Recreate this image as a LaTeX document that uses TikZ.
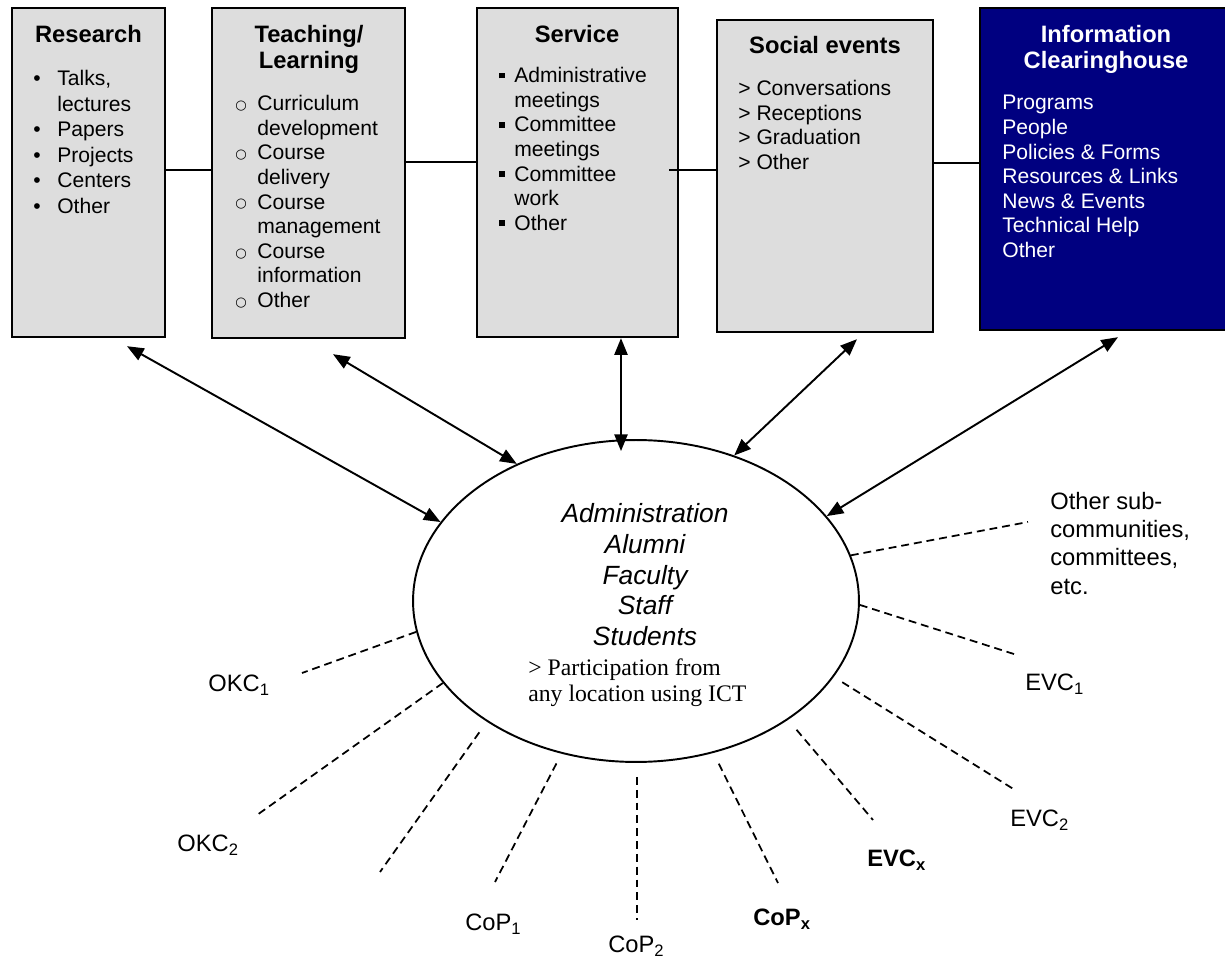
\documentclass[tikz,border=0pt]{standalone}
\usepackage{fontspec}
\setmainfont{Liberation Sans}
\newfontfamily\timesf{Liberation Serif}
\newfontfamily\symf{DejaVu Sans}
\usetikzlibrary{arrows.meta,shapes.geometric}
\definecolor{boxgray}{HTML}{DDDDDD}
\definecolor{navyblue}{HTML}{000080}
% list markers with hanging indent
\newcommand{\dotb}{\makebox[0.48cm][l]{•}}
\newcommand{\dotn}{\hspace*{0.48cm}}
\newcommand{\ringb}{\makebox[0.44cm][l]{\raisebox{0.6pt}{\fontsize{7.5}{8}\symf ○}}}
\newcommand{\ringn}{\hspace*{0.44cm}}
\newcommand{\sqb}{\makebox[0.3cm][l]{\rule[2.4pt]{3.3pt}{3.3pt}}}
\newcommand{\sqn}{\hspace*{0.3cm}}

\begin{document}
\begin{tikzpicture}[x=0.02cm, y=-0.02cm,
  every node/.style={inner sep=0pt, font=\fontsize{12}{14}\selectfont},
  box/.style={draw, line width=1.4pt, fill=boxgray, rectangle},
  head/.style={font=\fontsize{13.5}{15.3}\selectfont\bfseries, align=center, anchor=north},
  lst/.style={align=left, anchor=north west},
  lbl/.style={font=\fontsize{13.5}{16.2}\selectfont, anchor=base west},
  dbl/.style={{Triangle[length=9.5pt,width=7.5pt]}-{Triangle[length=9.5pt,width=7.5pt]}, line width=1.1pt},
  dsh/.style={line width=1pt, dash pattern=on 4.5pt off 2.8pt},
  link/.style={line width=1.1pt}]
  \useasboundingbox (0,0) rectangle (1225,959);

  % Top boxes
  \node[box, minimum width=3.06cm, minimum height=6.58cm] (res) at (88.5,172.5) {};
  \node[box, minimum width=3.86cm, minimum height=6.6cm] (teach) at (308.5,173) {};
  \node[box, minimum width=4.02cm, minimum height=6.58cm] (serv) at (577.5,172.5) {};
  \node[box, minimum width=4.32cm, minimum height=6.24cm] (soc) at (825,176) {};
  \node[box, fill=navyblue, minimum width=5cm, minimum height=6.44cm] (info) at (1105,169) {};

  % Links between the boxes
  \draw[link] (res.east |- 0,170) -- (teach.west |- 0,170);
  \draw[link] (teach.east |- 0,162) -- (serv.west |- 0,162);
  \draw[link] ([xshift=-0.2cm]serv.east |- 0,170) -- (soc.west |- 0,170);
  \draw[link] (soc.east |- 0,163) -- (info.west |- 0,163);

  % Research
  \node[head] (resH) at (88.5,24.5) {Research};
  \node[lst, font=\fontsize{12}{14.5}\selectfont] (resL) at (33,70)
    {\dotb Talks,\\\dotn lectures\\\dotb Papers\\\dotb Projects\\\dotb Centers\\\dotb Other};

  % Teaching / Learning
  \node[head] (teachH) at (309,24.5) {Teaching/\\Learning};
  \node[lst] (teachL) at (235,95)
    {\ringb Curriculum\\\ringn development\\\ringb Course\\\ringn delivery\\\ringb Course\\\ringn management\\\ringb Course\\\ringn information\\\ringb Other};

  % Service
  \node[head] (servH) at (577,24.5) {Service};
  \node[lst] (servL) at (499,67)
    {\sqb Administrative\\\sqn meetings\\\sqb Committee\\\sqn meetings\\\sqb Committee\\\sqn work\\\sqb Other};

  % Social events
  \node[head] (socH) at (825,35.5) {Social events};
  \node[lst] (socL) at (738,80)
    {> Conversations\\> Receptions\\> Graduation\\> Other};

  % Information Clearinghouse
  \node[head, text=white] (infoH) at (1106,24.5) {Information\\Clearinghouse};
  \node[lst, text=white] (infoL) at (1002,95)
    {Programs\\People\\Policies \& Forms\\Resources \& Links\\News \& Events\\Technical Help\\Other};

  % Community
  \node[draw, ellipse, line width=1.1pt, minimum width=8.92cm, minimum height=6.44cm] (ell) at (636,601) {};
  \node[font=\fontsize{15}{17.4}\selectfont\itshape, align=center, anchor=north] (members) at (645,503.5)
    {Administration\\Alumni\\Faculty\\Staff\\Students};
  \node[font=\fontsize{13.5}{15.3}\timesf, align=left, anchor=north west] (ict) at (528,658)
    {> Participation from\\any location using ICT};

  % Arrows to the boxes
  \draw[dbl] ([xshift=0.77cm,yshift=-0.16cm]res.south) -- (ell.158);
  \draw[dbl] ([xshift=0.49cm,yshift=-0.3cm]teach.south) -- (ell.131);
  \draw[dbl] ([xshift=0.87cm]serv.south) -- ([xshift=-0.3cm,yshift=-0.24cm]ell.north);
  \draw[dbl] ([xshift=0.64cm,yshift=-0.12cm]soc.south) -- (ell.56);
  \draw[dbl] ([xshift=0.26cm,yshift=-0.12cm]info.south) -- (ell.24);

  % Sub-communities
  \coordinate (otherE) at (1028,522);
  \coordinate (evc1E) at (1017,655);
  \coordinate (evc2E) at (1015,790);
  \coordinate (evcxE) at (873,820);
  \coordinate (copxE) at (778,883);
  \coordinate (cop2E) at (637,920);
  \coordinate (cop1E) at (495,882);
  \coordinate (blankE) at (380,872);
  \coordinate (okc2E) at (257,815);
  \coordinate (okc1E) at (302,673);
  \draw[dsh] (ell.12.5) -- (otherE);
  \draw[dsh] (ell.-1.8) -- (evc1E);
  \draw[dsh, shorten <=0.2cm] (ell.-21) -- (evc2E);
  \draw[dsh, shorten <=0.26cm] (ell.-38.3) -- (evcxE);
  \draw[dsh, shorten <=0.24cm] (ell.-63.4) -- (copxE);
  \draw[dsh, shorten <=0.28cm] (ell.south -| cop2E) -- (cop2E);
  \draw[dsh, shorten <=0.22cm] (ell.-116) -- (cop1E);
  \draw[dsh, shorten <=0.26cm] (ell.-141.4) -- (blankE);
  \draw[dsh] (ell.-157.2) -- (okc2E);
  \draw[dsh] (ell.-172) -- (okc1E);

  \node[lbl, align=left, anchor=north west] (other) at (1050,491.5)
    {Other sub-\\communities,\\committees,\\etc.};
  \node[lbl] (evc1) at (1025,690.5) {EVC\textsubscript{1}};
  \node[lbl] (evc2) at (1010,826.5) {EVC\textsubscript{2}};
  \node[lbl, font=\fontsize{13.5}{16.2}\selectfont\bfseries] (evcx) at (867,866.5) {EVC\textsubscript{x}};
  \node[lbl, font=\fontsize{13.5}{16.2}\selectfont\bfseries] (copx) at (753,925.5) {CoP\textsubscript{x}};
  \node[lbl] (cop2) at (608,952.5) {CoP\textsubscript{2}};
  \node[lbl] (cop1) at (465,930.5) {CoP\textsubscript{1}};
  \node[lbl] (okc2) at (177,851.5) {OKC\textsubscript{2}};
  \node[lbl] (okc1) at (208,691.5) {OKC\textsubscript{1}};
\end{tikzpicture}
\end{document}
